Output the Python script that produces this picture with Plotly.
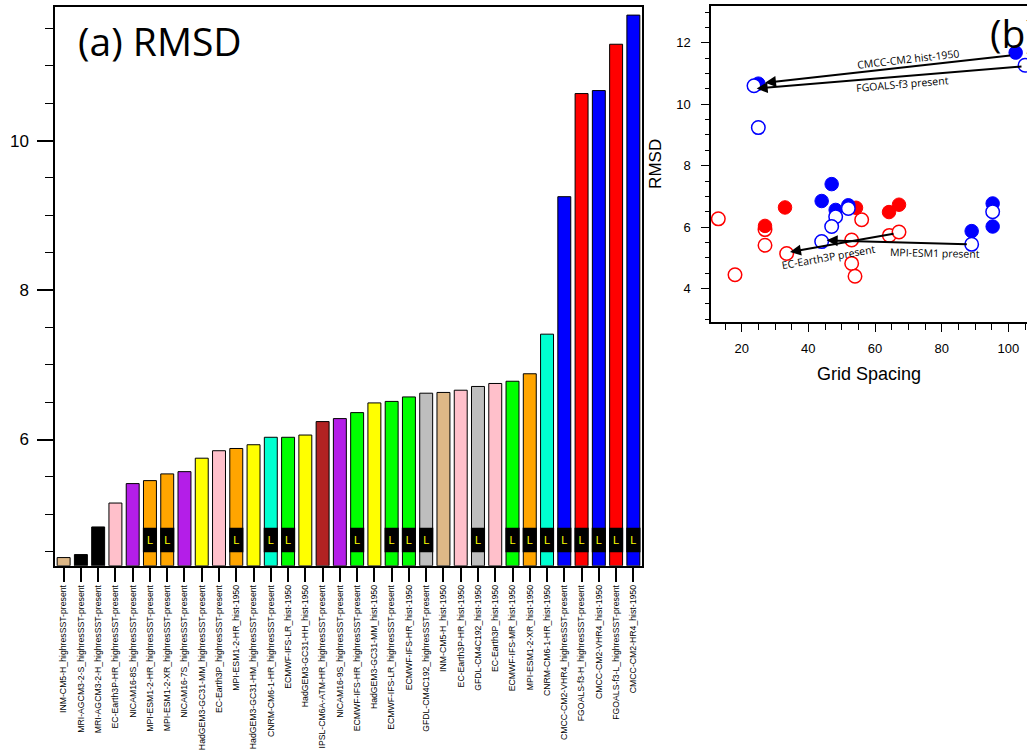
import plotly.graph_objects as go

# ---------------- Panel (a) data ----------------
models = [
    "INM-CM5-H_highresSST-present",
    "MRI-AGCM3-2-S_highresSST-present",
    "MRI-AGCM3-2-H_highresSST-present",
    "EC-Earth3P-HR_highresSST-present",
    "NICAM16-8S_highresSST-present",
    "MPI-ESM1-2-HR_highresSST-present",
    "MPI-ESM1-2-XR_highresSST-present",
    "NICAM16-7S_highresSST-present",
    "HadGEM3-GC31-MM_highresSST-present",
    "EC-Earth3P_highresSST-present",
    "MPI-ESM1-2-HR_hist-1950",
    "HadGEM3-GC31-HM_highresSST-present",
    "CNRM-CM6-1-HR_highresSST-present",
    "ECMWF-IFS-LR_hist-1950",
    "HadGEM3-GC31-HH_hist-1950",
    "IPSL-CM6A-ATM-HR_highresSST-present",
    "NICAM16-9S_highresSST-present",
    "ECMWF-IFS-HR_highresSST-present",
    "HadGEM3-GC31-MM_hist-1950",
    "ECMWF-IFS-LR_highresSST-present",
    "ECMWF-IFS-HR_hist-1950",
    "GFDL-CM4C192_highresSST-present",
    "INM-CM5-H_hist-1950",
    "EC-Earth3P-HR_hist-1950",
    "GFDL-CM4C192_hist-1950",
    "EC-Earth3P_hist-1950",
    "ECMWF-IFS-MR_hist-1950",
    "MPI-ESM1-2-XR_hist-1950",
    "CNRM-CM6-1-HR_hist-1950",
    "CMCC-CM2-VHR4_highresSST-present",
    "FGOALS-f3-H_highresSST-present",
    "CMCC-CM2-VHR4_hist-1950",
    "FGOALS-f3-L_highresSST-present",
    "CMCC-CM2-HR4_hist-1950",
]
rmsd = [4.42, 4.46, 4.83, 5.15, 5.41, 5.45, 5.54, 5.57, 5.75, 5.85,
        5.88, 5.93, 6.03, 6.03, 6.06, 6.24, 6.28, 6.36, 6.49, 6.51,
        6.57, 6.62, 6.63, 6.66, 6.71, 6.75, 6.78, 6.88, 7.41, 9.25,
        10.63, 10.67, 11.29, 11.68]
bar_colors = ["#deb887", "#000000", "#000000", "#ffc0cb", "#b41ee8",
              "#ffa500", "#ffa500", "#b41ee8", "#ffff00", "#ffc0cb",
              "#ffa500", "#ffff00", "#00ffd0", "#00ff00", "#ffff00",
              "#b22222", "#b41ee8", "#00ff00", "#ffff00", "#00ff00",
              "#00ff00", "#bebebe", "#deb887", "#ffc0cb", "#bebebe",
              "#ffc0cb", "#00ff00", "#ffa500", "#00ffd0", "#0000ff",
              "#ff0000", "#0000ff", "#ff0000", "#0000ff"]
low_flag = [0, 0, 0, 0, 0, 1, 1, 0, 0, 0,
            1, 0, 1, 1, 0, 0, 0, 1, 0, 1,
            1, 1, 0, 0, 1, 0, 1, 1, 1, 1,
            1, 1, 1, 1]
flag_base = 4.49
flag_height = 0.33
y_floor = 4.31

# ---------------- Panel (b) data ----------------
blue_filled_x = [102.2, 25.0, 47.0, 44.0, 48.2, 52.0, 89.0, 95.3, 95.3]
blue_filled_y = [11.68, 10.67, 7.40, 6.85, 6.56, 6.71, 5.87, 6.77, 6.02]
blue_open_x = [105.0, 23.7, 25.0, 44.0, 48.2, 47.0, 52.0, 89.0, 95.3]
blue_open_y = [11.27, 10.60, 9.24, 5.53, 6.34, 6.02, 6.61, 5.44, 6.50]
red_filled_x = [33.0, 27.0, 54.3, 64.2, 67.2]
red_filled_y = [6.64, 6.04, 6.63, 6.49, 6.73]
red_open_x = [13.0, 27.0, 27.0, 33.5, 18.0, 53.0, 56.0, 53.0, 54.0, 64.3, 67.2]
red_open_y = [6.27, 5.92, 5.41, 5.14, 4.45, 5.58, 6.24, 4.82, 4.40, 5.73, 5.84]

arrow_labels = ["CMCC-CM2 hist-1950", "FGOALS-f3 present",
                "MPI-ESM1 present", "EC-Earth3P present"]
arrow_tail_x = [101.0, 104.4, 88.0, 66.0]
arrow_tail_y = [11.59, 11.23, 5.44, 5.79]
arrow_head_x = [27.0, 24.5, 45.5, 34.5]
arrow_head_y = [10.70, 10.51, 5.57, 5.19]
label_x = [69.9, 68.3, 78.0, 46.0]
label_y = [11.46, 10.66, 5.17, 5.03]
label_angle = [-6.4, -4.8, 1.2, -10.0]

W, H = 1027, 750


def px_x(p):
    return p / W


def px_y(p):
    return 1 - p / H


fig = go.Figure()

fig.add_trace(go.Bar(
    x=models, y=[v - y_floor for v in rmsd], base=y_floor,
    marker=dict(color=bar_colors, line=dict(color="black", width=1)),
    width=0.75, xaxis="x", yaxis="y", showlegend=False,
))
fig.add_trace(go.Bar(
    x=[m for m, f in zip(models, low_flag) if f],
    y=[flag_height for f in low_flag if f],
    base=flag_base,
    marker=dict(color="black", line=dict(width=0)),
    width=0.82, text=["L" for f in low_flag if f],
    textposition="inside", insidetextanchor="middle", textangle=0,
    textfont=dict(color="#ffff00", size=11, family="Liberation Sans, Arial"),
    constraintext="none",
    xaxis="x", yaxis="y", showlegend=False,
))

fig.add_trace(go.Scatter(
    x=red_open_x, y=red_open_y, mode="markers", xaxis="x2", yaxis="y2",
    marker=dict(symbol="circle", size=13.5, color="white",
                line=dict(color="#ff0000", width=1.5)), showlegend=False))
fig.add_trace(go.Scatter(
    x=red_filled_x, y=red_filled_y, mode="markers", xaxis="x2", yaxis="y2",
    marker=dict(symbol="circle", size=13.5, color="#ff0000",
                line=dict(color="#ff0000", width=1)), showlegend=False))
fig.add_trace(go.Scatter(
    x=blue_filled_x, y=blue_filled_y, mode="markers", xaxis="x2", yaxis="y2",
    marker=dict(symbol="circle", size=13.5, color="#0000ff",
                line=dict(color="#0000ff", width=1)), showlegend=False))
fig.add_trace(go.Scatter(
    x=blue_open_x, y=blue_open_y, mode="markers", xaxis="x2", yaxis="y2",
    marker=dict(symbol="circle", size=13.5, color="white",
                line=dict(color="#0000ff", width=1.5)), showlegend=False))

annotations = []
for tx, ty, hx, hy in zip(arrow_tail_x, arrow_tail_y, arrow_head_x, arrow_head_y):
    annotations.append(dict(
        x=hx, y=hy, ax=tx, ay=ty, xref="x2", yref="y2", axref="x2", ayref="y2",
        text="", showarrow=True, arrowhead=2, arrowsize=1.1, arrowwidth=2,
        arrowcolor="black"))
for t, lx, ly, ang in zip(arrow_labels, label_x, label_y, label_angle):
    annotations.append(dict(
        x=lx, y=ly, xref="x2", yref="y2", text=t, showarrow=False,
        textangle=ang, font=dict(family="Open Sans", size=10.5, color="black")))

annotations.append(dict(
    x=px_x(76), y=px_y(41), xref="paper", yref="paper", text="(a) RMSD",
    showarrow=False, xanchor="left", yanchor="middle",
    font=dict(family="Open Sans", size=39, color="black")))
annotations.append(dict(
    x=px_x(988), y=px_y(33), xref="paper", yref="paper", text="(b)",
    showarrow=False, xanchor="left", yanchor="middle",
    font=dict(family="Open Sans", size=39, color="black")))

fig.update_layout(
    width=W, height=H,
    margin=dict(l=0, r=0, t=0, b=0),
    paper_bgcolor="white", plot_bgcolor="white",
    barmode="overlay",
    font=dict(family="Liberation Sans, Arial", color="black"),
    annotations=annotations,
    xaxis=dict(
        domain=[px_x(55), px_x(642)], range=[-0.5, 33.5],
        type="category", categoryorder="array", categoryarray=models,
        tickangle=-90, tickfont=dict(size=8.7, family="Liberation Sans, Arial"),
        ticks="outside", ticklen=14, tickwidth=1.5, tickcolor="black",
        showline=True, mirror=True, linecolor="black", linewidth=1.5,
        showgrid=False, zeroline=False, anchor="y",
    ),
    yaxis=dict(
        domain=[px_y(575), px_y(7)], range=[y_floor, 11.79],
        tickmode="linear", tick0=0, dtick=2,
        ticks="outside", ticklen=16, tickwidth=1.5, tickcolor="black",
        tickfont=dict(size=17), ticklabelstandoff=5,
        minor=dict(dtick=0.5, tick0=0, ticks="outside", ticklen=8,
                   tickwidth=1, tickcolor="black", showgrid=False),
        showline=True, mirror=True, linecolor="black", linewidth=1.5,
        showgrid=False, zeroline=False, anchor="x",
    ),
    xaxis2=dict(
        domain=[px_x(711), 1.0], range=[10.8, 105.6],
        tickmode="linear", tick0=0, dtick=20,
        ticks="outside", ticklen=8, tickwidth=1, tickcolor="black",
        tickfont=dict(size=13), ticklabelstandoff=6,
        minor=dict(dtick=5, tick0=0, ticks="outside", ticklen=6,
                   tickwidth=1, tickcolor="black", showgrid=False),
        showline=True, mirror=True, linecolor="black", linewidth=1.5,
        showgrid=False, zeroline=False, anchor="y2",
        title=dict(text="Grid Spacing", font=dict(size=18), standoff=12),
    ),
    yaxis2=dict(
        domain=[px_y(327), px_y(6)], range=[2.92, 13.20],
        tickmode="linear", tick0=0, dtick=2,
        ticks="outside", ticklen=8, tickwidth=1, tickcolor="black",
        tickfont=dict(size=13), ticklabelstandoff=8,
        minor=dict(dtick=0.5, tick0=0, ticks="outside", ticklen=4,
                   tickwidth=1, tickcolor="black", showgrid=False),
        showline=True, mirror=False, linecolor="black", linewidth=1.5,
        showgrid=False, zeroline=False, anchor="x2",
        title=dict(text="RMSD", font=dict(size=17), standoff=10),
    ),
)

fig.write_html(
    "out.html",
    config={"displayModeBar": False},
    post_script="document.body.style.margin='0';document.body.style.overflow='hidden';",
)
